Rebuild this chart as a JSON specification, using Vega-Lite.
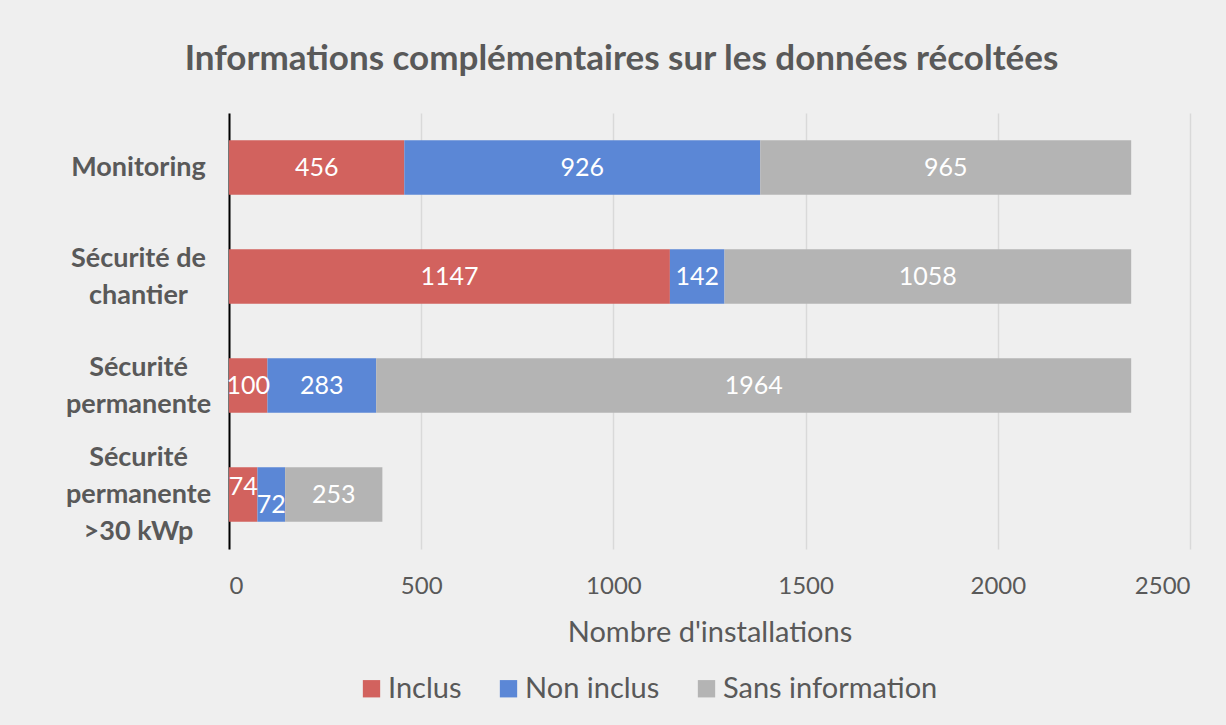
{
  "$schema": "https://vega.github.io/schema/vega-lite/v6.json",
  "width": 961,
  "height": 436,
  "autosize": {"type": "none"},
  "padding": {"left": 229, "top": 113, "right": 36, "bottom": 176},
  "background": "#efefef",
  "title": {
    "text": "Informations complémentaires sur les données récoltées",
    "font": "Lato",
    "fontSize": 35,
    "fontWeight": "bold",
    "color": "#595959",
    "anchor": "middle",
    "frame": "group",
    "dx": -88,
    "offset": 36
  },
  "data": {
    "values": [
      {"category": "Monitoring", "series": "Inclus", "value": 456},
      {"category": "Monitoring", "series": "Non inclus", "value": 926},
      {"category": "Monitoring", "series": "Sans information", "value": 965},
      {"category": "Sécurité de chantier", "series": "Inclus", "value": 1147},
      {"category": "Sécurité de chantier", "series": "Non inclus", "value": 142},
      {"category": "Sécurité de chantier", "series": "Sans information", "value": 1058},
      {"category": "Sécurité permanente", "series": "Inclus", "value": 100},
      {"category": "Sécurité permanente", "series": "Non inclus", "value": 283},
      {"category": "Sécurité permanente", "series": "Sans information", "value": 1964},
      {"category": "Sécurité permanente >30 kWp", "series": "Inclus", "value": 74},
      {"category": "Sécurité permanente >30 kWp", "series": "Non inclus", "value": 72},
      {"category": "Sécurité permanente >30 kWp", "series": "Sans information", "value": 253}
    ]
  },
  "transform": [
    {"stack": "value", "groupby": ["category"], "sort": [{"field": "series", "order": "ascending"}], "as": ["v0", "v1"]}
  ],
  "encoding": {
    "y": {
      "field": "category",
      "type": "nominal",
      "sort": ["Monitoring", "Sécurité de chantier", "Sécurité permanente", "Sécurité permanente >30 kWp"],
      "scale": {"paddingInner": 0.5, "paddingOuter": 0.25},
      "axis": {
        "title": null,
        "domain": true,
        "domainColor": "#000000",
        "domainWidth": 2,
        "ticks": false,
        "labelFont": "Lato",
        "labelFontSize": 27,
        "labelFontWeight": "bold",
        "labelColor": "#595959",
        "labelAlign": "center",
        "labelBaseline": "middle",
        "labelPadding": 91,
        "labelLineHeight": 37,
        "labelLimit": 400,
        "labelOffset": {"expr": "datum.value == 'Sécurité permanente >30 kWp' ? -37 : (datum.value == 'Monitoring' ? 0 : -18)"},
        "labelExpr": "datum.value == 'Sécurité de chantier' ? ['Sécurité de', 'chantier'] : datum.value == 'Sécurité permanente' ? ['Sécurité', 'permanente'] : datum.value == 'Sécurité permanente >30 kWp' ? ['Sécurité', 'permanente', '>30 kWp'] : datum.value"
      }
    }
  },
  "layer": [
    {
      "mark": {"type": "bar"},
      "encoding": {
        "x": {
          "field": "v0",
          "type": "quantitative",
          "scale": {"domain": [0, 2500], "nice": false},
          "axis": {
            "title": "Nombre d'installations",
            "values": [0, 500, 1000, 1500, 2000, 2500],
            "format": "d",
            "domain": false,
            "ticks": false,
            "grid": true,
            "gridColor": "#d9d9d9",
            "gridWidth": 1.5,
            "labelFont": "Lato",
            "labelFontSize": 24,
            "labelColor": "#595959",
            "labelPadding": 25,
            "titleFont": "Lato",
            "titleFontSize": 29,
            "titleFontWeight": "normal",
            "titleColor": "#595959",
            "titlePadding": 20
          }
        },
        "x2": {"field": "v1"},
        "color": {
          "field": "series",
          "type": "nominal",
          "scale": {
            "domain": ["Inclus", "Non inclus", "Sans information"],
            "range": ["#d2625e", "#5b87d6", "#b4b4b4"]
          },
          "legend": {
            "title": null,
            "orient": "none",
            "legendX": 128,
            "legendY": 561,
            "direction": "horizontal",
            "symbolType": "square",
            "symbolSize": 300,
            "symbolStrokeWidth": 0,
            "labelFont": "Lato",
            "labelFontSize": 29,
            "labelColor": "#595959",
            "labelOffset": 2,
            "labelLimit": 400,
            "columnPadding": 32
          }
        }
      }
    },
    {
      "transform": [
        {"fold": ["v0", "v1"], "as": ["edge", "pos"]},
        {"aggregate": [{"op": "mean", "field": "pos", "as": "mid"}], "groupby": ["category", "series", "value"]}
      ],
      "mark": {
        "type": "text",
        "color": "#ffffff",
        "font": "Lato",
        "fontSize": 25,
        "align": "center",
        "baseline": "middle",
        "dy": {"expr": "datum.value == 74 ? -8 : (datum.value == 72 ? 10 : 0)"}
      },
      "encoding": {
        "x": {"field": "mid", "type": "quantitative"},
        "text": {"field": "value", "type": "quantitative", "format": "d"}
      }
    }
  ],
  "config": {
    "view": {"stroke": null}
  }
}
